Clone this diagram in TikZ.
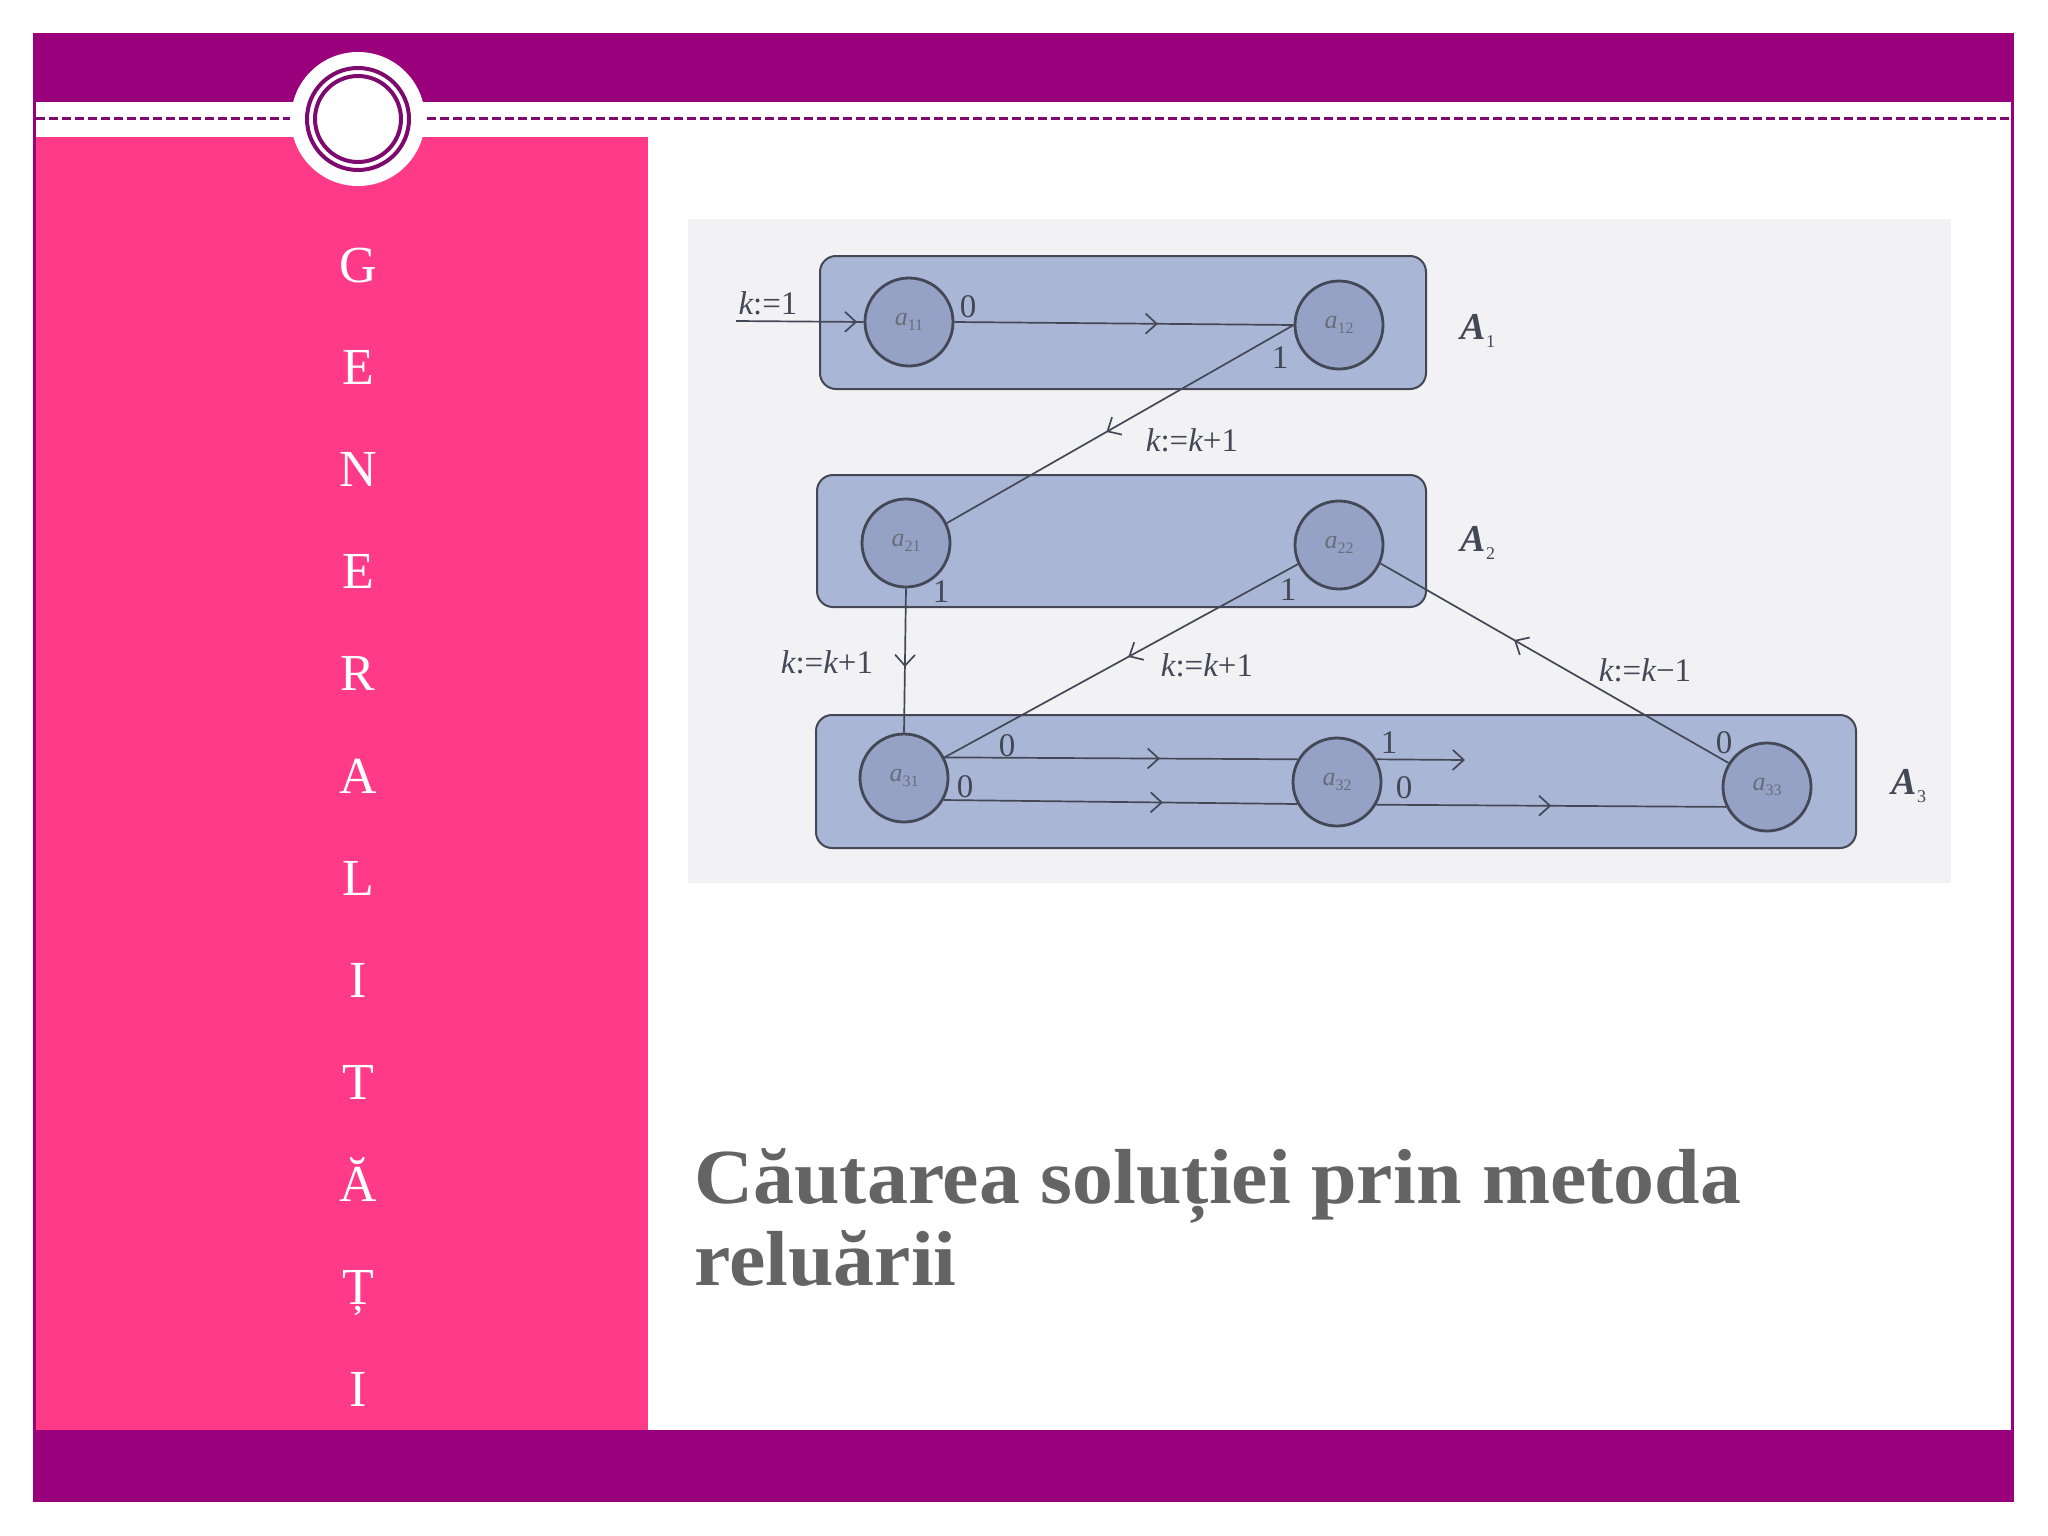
\documentclass[tikz,border=0pt]{standalone}
\usepackage{fontspec}
\setmainfont{Liberation Serif}
\newfontfamily\titlefont[FakeStretch=1.05]{Liberation Serif}
\usetikzlibrary{arrows.meta,decorations.markings}
\definecolor{slidepurple}{HTML}{9A007C}
\definecolor{ringpurple}{HTML}{7E0A6E}
\definecolor{slidepink}{HTML}{FF3A89}
\definecolor{scanbg}{HTML}{F2F2F4}
\definecolor{boxfill}{HTML}{AAB6D6}
\definecolor{nodefill}{HTML}{95A2C6}
\definecolor{inkdark}{HTML}{444856}
\definecolor{titlegray}{HTML}{646464}
\newcommand{\stlab}[2]{{\itshape #1}\raisebox{-0.22em}{\fontsize{16}{16}\selectfont #2}}
\newcommand{\grlab}[1]{{\bfseries\itshape A}\raisebox{-0.2em}{\fontsize{18}{18}\selectfont\mdseries\upshape #1}}
\begin{document}
\begin{tikzpicture}[x=1pt,y=-1pt,
  groupbox/.style={draw=inkdark, line width=2pt, fill=boxfill, rounded corners=16pt, inner sep=0pt},
  statenode/.style={circle, draw=inkdark, line width=2.8pt, fill=nodefill, minimum size=88pt, inner sep=0pt, text=inkdark!80, font=\fontsize{26}{26}\selectfont},
  edgeline/.style={color=inkdark, line width=1.7pt},
  chev/.style={postaction={decorate}, decoration={markings, mark=at position #1 with {\arrow[inkdark, line width=1.7pt]{Straight Barb[length=11pt,width=20pt]}}}},
  elabel/.style={inner sep=0pt, text=inkdark, font=\fontsize{33}{33}\selectfont},
  glabel/.style={inner sep=0pt, text=inkdark, font=\fontsize{38}{38}\selectfont},
  sideletter/.style={anchor=base, inner sep=0pt, text=white, font=\fontsize{52}{52}\selectfont},
  titletext/.style={anchor=base west, inner sep=0pt, text=titlegray, font=\titlefont\bfseries\fontsize{78}{82}\selectfont}
]
\useasboundingbox (0,0) rectangle (2048,1536);
\fill[white] (0,0) rectangle (2048,1536);
% slide frame
\fill[slidepurple] (33,33) rectangle (2014,102);
\fill[slidepurple] (33,1430) rectangle (2014,1502);
\fill[slidepurple] (33,33) rectangle (35.5,1502);
\fill[slidepurple] (2011,102) rectangle (2014,1430);
\fill[slidepink] (35.5,137) rectangle (648,1430);
\draw[ringpurple, line width=3pt, dash pattern=on 9pt off 4pt] (36,119) -- (290,119);
\draw[ringpurple, line width=3pt, dash pattern=on 9pt off 4pt] (427,119) -- (2011,119);
\fill[white] (358,119) circle[radius=67];
\draw[ringpurple, line width=4pt] (358,119) circle[radius=51];
\draw[ringpurple, line width=4pt] (358,119) circle[radius=43];
% side letters
\node[sideletter] (s1) at (358,282.0) {G};
\node[sideletter] (s2) at (358,384.2) {E};
\node[sideletter] (s3) at (358,486.4) {N};
\node[sideletter] (s4) at (358,588.6) {E};
\node[sideletter] (s5) at (358,690.8) {R};
\node[sideletter] (s6) at (358,793.0) {A};
\node[sideletter] (s7) at (358,895.2) {L};
\node[sideletter] (s8) at (358,997.4) {I};
\node[sideletter] (s9) at (358,1099.6) {T};
\node[sideletter] (s10) at (358,1201.8) {Ă};
\node[sideletter] (s11) at (358,1304.0) {Ț};
\node[sideletter] (s12) at (358,1406.2) {I};
% scanned figure area
\fill[scanbg] (688,219) rectangle (1951,883);
% group boxes
\node[groupbox, minimum width=606pt, minimum height=133pt] (A1box) at (1123,322.5) {};
\node[groupbox, minimum width=609pt, minimum height=132pt] (A2box) at (1121.5,541) {};
\node[groupbox, minimum width=1040pt, minimum height=133pt] (A3box) at (1336,781.5) {};
% states
\node[statenode] (a11) at (909,322) {\stlab{a}{11}};
\node[statenode] (a12) at (1339,325) {\stlab{a}{12}};
\node[statenode] (a21) at (906,543) {\stlab{a}{21}};
\node[statenode] (a22) at (1339,545) {\stlab{a}{22}};
\node[statenode] (a31) at (904,778) {\stlab{a}{31}};
\node[statenode] (a32) at (1337,782) {\stlab{a}{32}};
\node[statenode] (a33) at (1767,787) {\stlab{a}{33}};
\coordinate (in) at (736,321);
\coordinate (e8) at (1465,760);
% edges
\draw[edgeline, chev=0.95] (in) -- (a11.west);
\draw[edgeline, chev=0.60] (a11.east) -- (a12.west);
\draw[edgeline, chev=0.54] (a12.west) -- (a21.26);
\draw[edgeline, chev=0.545] (a21.south) -- (a31.north);
\draw[edgeline, chev=0.48] (a22.205) -- (a31.27);
\draw[edgeline, chev=0.61] (a31.27) -- (a32.150);
\draw[edgeline, chev=0.62] (a31.-29) -- (a32.209);
\draw[edgeline, -{Straight Barb[length=11pt,width=20pt]}] (a32.30) -- (e8);
\draw[edgeline, chev=0.50] (a32.-30) -- (a33.206);
\draw[edgeline, chev=0.616] (a33.148) -- (a22.-24);
% edge labels
\node[elabel] (l1) at (768,303) {{\itshape k}:=1};
\node[elabel] (l2) at (968,307) {0};
\node[elabel] (l3) at (1280,358) {1};
\node[elabel] (l4) at (1192,440) {{\itshape k}:={\itshape k}+1};
\node[elabel] (l5) at (941,592) {1};
\node[elabel] (l6) at (827,662) {{\itshape k}:={\itshape k}+1};
\node[elabel] (l7) at (1288,590) {1};
\node[elabel] (l8) at (1207,665) {{\itshape k}:={\itshape k}+1};
\node[elabel] (l9) at (1007,746) {0};
\node[elabel] (l10) at (965,787) {0};
\node[elabel] (l11) at (1389,743) {1};
\node[elabel] (l12) at (1404,788) {0};
\node[elabel] (l13) at (1724,743) {0};
\node[elabel] (l14) at (1645,670) {{\itshape k}:={\itshape k}−1};
% group labels
\node[glabel] (gA1) at (1478,331) {\grlab{1}};
\node[glabel] (gA2) at (1478,543) {\grlab{2}};
\node[glabel] (gA3) at (1909,786) {\grlab{3}};
% title
\node[titletext] (t1) at (694,1203) {Căutarea soluției prin metoda};
\node[titletext] (t2) at (694,1285) {reluării};
\end{tikzpicture}
\end{document}
